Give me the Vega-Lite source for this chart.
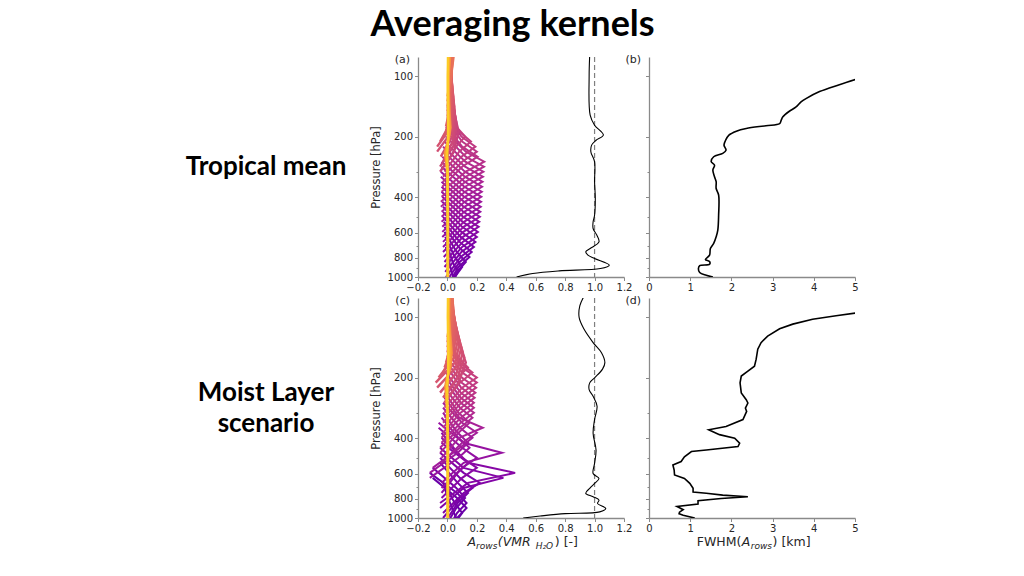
{
"$schema": "https://vega.github.io/schema/vega-lite/v6.json",
"padding": {"left": 139, "top": 7, "right": 5, "bottom": 5},
"title": {"text": "Averaging kernels", "font": "Lato", "fontSize": 36, "fontWeight": "bold", "color": "black", "anchor": "middle", "dx": 14, "offset": 10},
"config": {
  "view": {"stroke": null},
  "axis": {"domainColor": "#8a8a8a", "domainWidth": 1.3, "tickColor": "#8a8a8a", "tickWidth": 1, "tickSize": 3.5, "labelFont": "DejaVu Sans", "labelFontSize": 10, "labelColor": "#262626", "labelPadding": 2, "labelOverlap": false, "titleFont": "DejaVu Sans", "titleFontSize": 11.5, "titleFontWeight": "normal", "titleColor": "#262626", "grid": false}
},
"datasets": {
"ka": [
{"k":0,"p":1412.5,"x":0},{"k":0,"p":1122,"x":0.02},{"k":0,"p":1000,"x":0.04},{"k":0,"p":891.3,"x":0.02},{"k":0,"p":707.9,"x":-0.01},
{"k":1,"p":1333.5,"x":0},{"k":1,"p":1059.3,"x":0.035},{"k":1,"p":944.1,"x":0.07},{"k":1,"p":841.4,"x":0.035},{"k":1,"p":668.3,"x":-0.01},
{"k":2,"p":1258.9,"x":0},{"k":2,"p":1000,"x":0.05},{"k":2,"p":891.3,"x":0.1},{"k":2,"p":794.3,"x":0.05},{"k":2,"p":631,"x":-0.015},
{"k":3,"p":1188.5,"x":0},{"k":3,"p":944.1,"x":0.063},{"k":3,"p":841.4,"x":0.125},{"k":3,"p":749.9,"x":0.063},{"k":3,"p":595.7,"x":-0.02},
{"k":4,"p":1122,"x":-0.005},{"k":4,"p":891.3,"x":0.075},{"k":4,"p":794.3,"x":0.15},{"k":4,"p":707.9,"x":0.075},{"k":4,"p":562.3,"x":-0.02},
{"k":5,"p":1059.3,"x":-0.01},{"k":5,"p":841.4,"x":0.083},{"k":5,"p":749.9,"x":0.165},{"k":5,"p":668.3,"x":0.083},{"k":5,"p":530.9,"x":-0.025},
{"k":6,"p":1000,"x":-0.01},{"k":6,"p":794.3,"x":0.09},{"k":6,"p":707.9,"x":0.18},{"k":6,"p":631,"x":0.09},{"k":6,"p":501.2,"x":-0.03},
{"k":7,"p":944.1,"x":-0.015},{"k":7,"p":749.9,"x":0.095},{"k":7,"p":668.3,"x":0.19},{"k":7,"p":595.7,"x":0.095},{"k":7,"p":473.2,"x":-0.03},
{"k":8,"p":891.3,"x":-0.02},{"k":8,"p":707.9,"x":0.1},{"k":8,"p":631,"x":0.2},{"k":8,"p":562.3,"x":0.1},{"k":8,"p":446.7,"x":-0.03},
{"k":9,"p":841.4,"x":-0.02},{"k":9,"p":668.3,"x":0.104},{"k":9,"p":595.7,"x":0.207},{"k":9,"p":530.9,"x":0.104},{"k":9,"p":421.7,"x":-0.035},
{"k":10,"p":794.3,"x":-0.025},{"k":10,"p":631,"x":0.106},{"k":10,"p":562.3,"x":0.212},{"k":10,"p":501.2,"x":0.106},{"k":10,"p":398.1,"x":-0.035},
{"k":11,"p":749.9,"x":-0.03},{"k":11,"p":595.7,"x":0.108},{"k":11,"p":530.9,"x":0.216},{"k":11,"p":473.2,"x":0.108},{"k":11,"p":375.8,"x":-0.04},
{"k":12,"p":707.9,"x":-0.03},{"k":12,"p":562.3,"x":0.11},{"k":12,"p":501.2,"x":0.22},{"k":12,"p":446.7,"x":0.11},{"k":12,"p":354.8,"x":-0.04},
{"k":13,"p":668.3,"x":-0.03},{"k":13,"p":530.9,"x":0.112},{"k":13,"p":473.2,"x":0.223},{"k":13,"p":421.7,"x":0.112},{"k":13,"p":335,"x":-0.04},
{"k":14,"p":631,"x":-0.035},{"k":14,"p":501.2,"x":0.113},{"k":14,"p":446.7,"x":0.226},{"k":14,"p":398.1,"x":0.113},{"k":14,"p":316.2,"x":-0.045},
{"k":15,"p":595.7,"x":-0.035},{"k":15,"p":473.2,"x":0.114},{"k":15,"p":421.7,"x":0.228},{"k":15,"p":375.8,"x":0.114},{"k":15,"p":298.5,"x":-0.045},
{"k":16,"p":562.3,"x":-0.035},{"k":16,"p":446.7,"x":0.115},{"k":16,"p":398.1,"x":0.23},{"k":16,"p":354.8,"x":0.115},{"k":16,"p":281.8,"x":-0.04},
{"k":17,"p":530.9,"x":-0.04},{"k":17,"p":421.7,"x":0.117},{"k":17,"p":375.8,"x":0.233},{"k":17,"p":335,"x":0.117},{"k":17,"p":266.1,"x":-0.04},
{"k":18,"p":501.2,"x":-0.04},{"k":18,"p":398.1,"x":0.118},{"k":18,"p":354.8,"x":0.235},{"k":18,"p":316.2,"x":0.118},{"k":18,"p":251.2,"x":-0.035},
{"k":19,"p":473.2,"x":-0.04},{"k":19,"p":375.8,"x":0.119},{"k":19,"p":335,"x":0.238},{"k":19,"p":298.5,"x":0.119},{"k":19,"p":237.1,"x":-0.03},
{"k":20,"p":446.7,"x":-0.045},{"k":20,"p":354.8,"x":0.12},{"k":20,"p":316.2,"x":0.241},{"k":20,"p":281.8,"x":0.12},{"k":20,"p":223.9,"x":-0.03},
{"k":21,"p":421.7,"x":-0.045},{"k":21,"p":335,"x":0.122},{"k":21,"p":298.5,"x":0.244},{"k":21,"p":266.1,"x":0.122},{"k":21,"p":211.3,"x":-0.02},
{"k":22,"p":398.1,"x":-0.04},{"k":22,"p":316.2,"x":0.124},{"k":22,"p":281.8,"x":0.248},{"k":22,"p":251.2,"x":0.124},{"k":22,"p":199.5,"x":-0.01},
{"k":23,"p":375.8,"x":-0.04},{"k":23,"p":298.5,"x":0.125},{"k":23,"p":266.1,"x":0.25},{"k":23,"p":237.1,"x":0.125},{"k":23,"p":188.4,"x":-0.01},
{"k":24,"p":354.8,"x":-0.035},{"k":24,"p":281.8,"x":0.1},{"k":24,"p":251.2,"x":0.205},{"k":24,"p":223.9,"x":0.1},{"k":24,"p":177.8,"x":-0.01},
{"k":25,"p":335,"x":-0.03},{"k":25,"p":266.1,"x":0.1},{"k":25,"p":237.1,"x":0.2},{"k":25,"p":211.3,"x":0.1},{"k":25,"p":167.9,"x":0},
{"k":26,"p":316.2,"x":-0.03},{"k":26,"p":251.2,"x":0.095},{"k":26,"p":223.9,"x":0.19},{"k":26,"p":199.5,"x":0.095},{"k":26,"p":158.5,"x":0},
{"k":27,"p":298.5,"x":-0.02},{"k":27,"p":237.1,"x":0.08},{"k":27,"p":211.3,"x":0.16},{"k":27,"p":188.4,"x":0.08},{"k":27,"p":149.6,"x":0},
{"k":28,"p":281.8,"x":-0.02},{"k":28,"p":223.9,"x":0.06},{"k":28,"p":199.5,"x":0.12},{"k":28,"p":177.8,"x":0.06},{"k":28,"p":141.3,"x":0}
],
"ua": [
{"k":29,"p":298.5,"x":-0.05},{"k":29,"p":237.1,"x":0.045},{"k":29,"p":188.4,"x":0.075},{"k":29,"p":149.6,"x":0.045},{"k":29,"p":118.9,"x":0.01},
{"k":30,"p":281.8,"x":-0.05},{"k":30,"p":223.9,"x":0.039},{"k":30,"p":177.8,"x":0.065},{"k":30,"p":141.3,"x":0.039},{"k":30,"p":112.2,"x":0.01},
{"k":31,"p":266.1,"x":-0.03},{"k":31,"p":211.3,"x":0.035},{"k":31,"p":167.9,"x":0.058},{"k":31,"p":133.4,"x":0.035},{"k":31,"p":105.9,"x":0.01},
{"k":32,"p":251.2,"x":-0.045},{"k":32,"p":199.5,"x":0.032},{"k":32,"p":158.5,"x":0.053},{"k":32,"p":125.9,"x":0.032},{"k":32,"p":100,"x":0.01},
{"k":33,"p":237.1,"x":-0.07},{"k":33,"p":188.4,"x":0.03},{"k":33,"p":149.6,"x":0.05},{"k":33,"p":118.9,"x":0.03},{"k":33,"p":94.4,"x":0.01},
{"k":34,"p":223.9,"x":-0.07},{"k":34,"p":177.8,"x":0.028},{"k":34,"p":141.3,"x":0.047},{"k":34,"p":112.2,"x":0.028},{"k":34,"p":89.1,"x":0.01},
{"k":35,"p":211.3,"x":-0.05},{"k":35,"p":167.9,"x":0.026},{"k":35,"p":133.4,"x":0.043},{"k":35,"p":105.9,"x":0.026},{"k":35,"p":84.1,"x":0.01},
{"k":36,"p":199.5,"x":-0.02},{"k":36,"p":158.5,"x":0.024},{"k":36,"p":125.9,"x":0.04},{"k":36,"p":100,"x":0.024},{"k":36,"p":79.4,"x":0.01},
{"k":37,"p":188.4,"x":-0.01},{"k":37,"p":149.6,"x":0.022},{"k":37,"p":118.9,"x":0.036},{"k":37,"p":94.4,"x":0.022},{"k":37,"p":75,"x":0.01},
{"k":38,"p":177.8,"x":-0.01},{"k":38,"p":141.3,"x":0.02},{"k":38,"p":112.2,"x":0.033},{"k":38,"p":89.1,"x":0.02},{"k":38,"p":70.8,"x":0.01},
{"k":39,"p":167.9,"x":0},{"k":39,"p":133.4,"x":0.018},{"k":39,"p":105.9,"x":0.03},{"k":39,"p":84.1,"x":0.018},{"k":39,"p":66.8,"x":0.01},
{"k":40,"p":158.5,"x":0},{"k":40,"p":125.9,"x":0.016},{"k":40,"p":100,"x":0.027},{"k":40,"p":79.4,"x":0.016},{"k":40,"p":63.1,"x":0.01},
{"k":41,"p":149.6,"x":0},{"k":41,"p":118.9,"x":0.017},{"k":41,"p":94.4,"x":0.028},{"k":41,"p":75,"x":0.017},{"k":41,"p":59.6,"x":0.01},
{"k":42,"p":141.3,"x":0},{"k":42,"p":112.2,"x":0.018},{"k":42,"p":89.1,"x":0.03},{"k":42,"p":70.8,"x":0.018},{"k":42,"p":56.2,"x":0.01},
{"k":43,"p":133.4,"x":0},{"k":43,"p":105.9,"x":0.021},{"k":43,"p":84.1,"x":0.035},{"k":43,"p":66.8,"x":0.021},{"k":43,"p":53.1,"x":0.01},
{"k":44,"p":125.9,"x":0},{"k":44,"p":100,"x":0.025},{"k":44,"p":79.4,"x":0.042},{"k":44,"p":63.1,"x":0.025},{"k":44,"p":50.1,"x":0.01}
],
"ba": [
{"k":52,"p":1000,"x":0.005},{"k":52,"p":800,"x":0.005},{"k":52,"p":600,"x":0.005},{"k":52,"p":400,"x":0.004},{"k":52,"p":300,"x":0},{"k":52,"p":260,"x":-0.012},{"k":52,"p":240,"x":-0.018},{"k":52,"p":220,"x":-0.005},{"k":52,"p":200,"x":0.012},{"k":52,"p":180,"x":0.022},{"k":52,"p":150,"x":0.015},{"k":52,"p":120,"x":0.01},{"k":52,"p":100,"x":0.01},{"k":52,"p":78,"x":0.02},
{"k":56,"p":1000,"x":0.004},{"k":56,"p":800,"x":0.004},{"k":56,"p":600,"x":0.004},{"k":56,"p":400,"x":0.003},{"k":56,"p":300,"x":0},{"k":56,"p":260,"x":-0.009},{"k":56,"p":240,"x":-0.013},{"k":56,"p":220,"x":0},{"k":56,"p":200,"x":0.012},{"k":56,"p":180,"x":0.018},{"k":56,"p":150,"x":0.012},{"k":56,"p":120,"x":0.008},{"k":56,"p":100,"x":0.008},{"k":56,"p":78,"x":0.015},
{"k":60,"p":1000,"x":0.003},{"k":60,"p":800,"x":0.003},{"k":60,"p":600,"x":0.003},{"k":60,"p":400,"x":0.002},{"k":60,"p":300,"x":0.001},{"k":60,"p":260,"x":-0.006},{"k":60,"p":240,"x":-0.008},{"k":60,"p":220,"x":0},{"k":60,"p":200,"x":0.009},{"k":60,"p":180,"x":0.013},{"k":60,"p":150,"x":0.008},{"k":60,"p":120,"x":0.005},{"k":60,"p":100,"x":0.005},{"k":60,"p":78,"x":0.01},
{"k":64,"p":1000,"x":0.002},{"k":64,"p":800,"x":0.002},{"k":64,"p":600,"x":0.002},{"k":64,"p":400,"x":0.001},{"k":64,"p":300,"x":0.001},{"k":64,"p":260,"x":-0.003},{"k":64,"p":240,"x":-0.004},{"k":64,"p":220,"x":0.002},{"k":64,"p":200,"x":0.006},{"k":64,"p":180,"x":0.008},{"k":64,"p":150,"x":0.005},{"k":64,"p":120,"x":0.003},{"k":64,"p":100,"x":0.003},{"k":64,"p":78,"x":0.006},
{"k":68,"p":1000,"x":0.001},{"k":68,"p":800,"x":0.001},{"k":68,"p":600,"x":0.001},{"k":68,"p":400,"x":0.001},{"k":68,"p":300,"x":0.001},{"k":68,"p":260,"x":0},{"k":68,"p":240,"x":0},{"k":68,"p":220,"x":0.002},{"k":68,"p":200,"x":0.003},{"k":68,"p":180,"x":0.004},{"k":68,"p":150,"x":0.003},{"k":68,"p":120,"x":0.002},{"k":68,"p":100,"x":0.002},{"k":68,"p":78,"x":0.003}
],
"sa": [
{"p":78,"x":0.967},{"p":100,"x":0.963},{"p":156,"x":0.97},{"p":175,"x":1.0},{"p":196,"x":1.06},{"p":208,"x":1.01},{"p":220,"x":0.98},{"p":238,"x":0.975},{"p":266,"x":1.0},{"p":335,"x":1.0},{"p":406,"x":1.005},{"p":492,"x":1.0},{"p":531,"x":0.99},{"p":573,"x":0.99},{"p":618,"x":1.015},{"p":668,"x":1.03},{"p":721,"x":0.97},{"p":749,"x":0.94},{"p":778,"x":0.955},{"p":809,"x":1.0},{"p":873,"x":1.1},{"p":907,"x":1.04},{"p":932,"x":0.76},{"p":961,"x":0.58},{"p":1000,"x":0.47}
],
"fb": [
{"p":103,"x":5.05},{"p":110,"x":4.62},{"p":119,"x":4.14},{"p":129,"x":3.81},{"p":134,"x":3.69},{"p":142,"x":3.57},{"p":150,"x":3.39},{"p":159,"x":3.25},{"p":165,"x":3.21},{"p":172,"x":3.17},{"p":176,"x":2.84},{"p":181.7,"x":2.36},{"p":187.4,"x":2.12},{"p":196,"x":1.94},{"p":208,"x":1.86},{"p":220,"x":1.82},{"p":233,"x":1.87},{"p":242,"x":1.79},{"p":251.5,"x":1.57},{"p":266,"x":1.51},{"p":277,"x":1.59},{"p":293,"x":1.55},{"p":316,"x":1.59},{"p":335,"x":1.63},{"p":362,"x":1.63},{"p":390,"x":1.69},{"p":492,"x":1.69},{"p":584,"x":1.67},{"p":630,"x":1.63},{"p":680,"x":1.57},{"p":721,"x":1.49},{"p":778,"x":1.47},{"p":818,"x":1.37},{"p":837,"x":1.47},{"p":864,"x":1.47},{"p":878,"x":1.23},{"p":907,"x":1.2},{"p":950,"x":1.23},{"p":980,"x":1.39},{"p":1000,"x":1.55}
],
"kc": [
{"k":0,"p":1412.5,"x":0},{"k":0,"p":1122,"x":0.03},{"k":0,"p":1000,"x":0.06},{"k":0,"p":891.3,"x":0.03},{"k":0,"p":707.9,"x":-0.02},
{"k":1,"p":1333.5,"x":0},{"k":1,"p":1059.3,"x":0.05},{"k":1,"p":944.1,"x":0.1},{"k":1,"p":841.4,"x":0.05},{"k":1,"p":668.3,"x":-0.03},
{"k":2,"p":1258.9,"x":-0.01},{"k":2,"p":1000,"x":0.065},{"k":2,"p":891.3,"x":0.13},{"k":2,"p":794.3,"x":0.065},{"k":2,"p":631,"x":-0.1},
{"k":3,"p":1188.5,"x":-0.01},{"k":3,"p":944.1,"x":0.065},{"k":3,"p":841.4,"x":0.13},{"k":3,"p":749.9,"x":0.065},{"k":3,"p":595.7,"x":-0.12},
{"k":4,"p":1122,"x":-0.02},{"k":4,"p":891.3,"x":0.06},{"k":4,"p":794.3,"x":0.12},{"k":4,"p":707.9,"x":0.06},{"k":4,"p":562.3,"x":-0.1},
{"k":5,"p":1059.3,"x":-0.02},{"k":5,"p":841.4,"x":0.07},{"k":5,"p":749.9,"x":0.14},{"k":5,"p":668.3,"x":0.07},{"k":5,"p":530.9,"x":-0.05},
{"k":6,"p":1000,"x":-0.03},{"k":6,"p":794.3,"x":0.085},{"k":6,"p":707.9,"x":0.17},{"k":6,"p":631,"x":0.085},{"k":6,"p":501.2,"x":-0.05},
{"k":7,"p":944.1,"x":-0.03},{"k":7,"p":749.9,"x":0.11},{"k":7,"p":668.3,"x":0.22},{"k":7,"p":595.7,"x":0.11},{"k":7,"p":473.2,"x":-0.05},
{"k":8,"p":891.3,"x":-0.05},{"k":8,"p":707.9,"x":0.11},{"k":8,"p":631,"x":0.38},{"k":8,"p":562.3,"x":0.11},{"k":8,"p":446.7,"x":-0.05},
{"k":9,"p":841.4,"x":-0.05},{"k":9,"p":668.3,"x":0.14},{"k":9,"p":595.7,"x":0.46},{"k":9,"p":530.9,"x":0.14},{"k":9,"p":421.7,"x":-0.04},
{"k":10,"p":794.3,"x":-0.04},{"k":10,"p":631,"x":0.1},{"k":10,"p":562.3,"x":0.2},{"k":10,"p":501.2,"x":0.1},{"k":10,"p":398.1,"x":-0.04},
{"k":11,"p":749.9,"x":-0.04},{"k":11,"p":595.7,"x":0.07},{"k":11,"p":530.9,"x":0.14},{"k":11,"p":473.2,"x":0.07},{"k":11,"p":375.8,"x":-0.04},
{"k":12,"p":707.9,"x":-0.04},{"k":12,"p":562.3,"x":0.1},{"k":12,"p":501.2,"x":0.2},{"k":12,"p":446.7,"x":0.1},{"k":12,"p":354.8,"x":-0.06},
{"k":13,"p":668.3,"x":-0.04},{"k":13,"p":530.9,"x":0.11},{"k":13,"p":473.2,"x":0.37},{"k":13,"p":421.7,"x":0.11},{"k":13,"p":335,"x":-0.06},
{"k":14,"p":631,"x":-0.12},{"k":14,"p":501.2,"x":0.075},{"k":14,"p":446.7,"x":0.15},{"k":14,"p":398.1,"x":0.075},{"k":14,"p":316.2,"x":-0.04},
{"k":15,"p":595.7,"x":-0.12},{"k":15,"p":473.2,"x":0.07},{"k":15,"p":421.7,"x":0.14},{"k":15,"p":375.8,"x":0.07},{"k":15,"p":298.5,"x":-0.03},
{"k":16,"p":562.3,"x":-0.1},{"k":16,"p":446.7,"x":0.085},{"k":16,"p":398.1,"x":0.17},{"k":16,"p":354.8,"x":0.085},{"k":16,"p":281.8,"x":-0.03},
{"k":17,"p":530.9,"x":-0.04},{"k":17,"p":421.7,"x":0.1},{"k":17,"p":375.8,"x":0.2},{"k":17,"p":335,"x":0.1},{"k":17,"p":266.1,"x":-0.03},
{"k":18,"p":501.2,"x":-0.04},{"k":18,"p":398.1,"x":0.08},{"k":18,"p":354.8,"x":0.24},{"k":18,"p":316.2,"x":0.08},{"k":18,"p":251.2,"x":-0.02},
{"k":19,"p":473.2,"x":-0.05},{"k":19,"p":375.8,"x":0.075},{"k":19,"p":335,"x":0.15},{"k":19,"p":298.5,"x":0.075},{"k":19,"p":237.1,"x":-0.02},
{"k":20,"p":446.7,"x":-0.05},{"k":20,"p":354.8,"x":0.085},{"k":20,"p":316.2,"x":0.17},{"k":20,"p":281.8,"x":0.085},{"k":20,"p":223.9,"x":-0.02},
{"k":21,"p":421.7,"x":-0.04},{"k":21,"p":335,"x":0.09},{"k":21,"p":298.5,"x":0.18},{"k":21,"p":266.1,"x":0.09},{"k":21,"p":211.3,"x":-0.01},
{"k":22,"p":398.1,"x":-0.04},{"k":22,"p":316.2,"x":0.09},{"k":22,"p":281.8,"x":0.18},{"k":22,"p":251.2,"x":0.09},{"k":22,"p":199.5,"x":-0.01},
{"k":23,"p":375.8,"x":-0.03},{"k":23,"p":298.5,"x":0.09},{"k":23,"p":266.1,"x":0.18},{"k":23,"p":237.1,"x":0.09},{"k":23,"p":188.4,"x":-0.01},
{"k":24,"p":354.8,"x":-0.03},{"k":24,"p":281.8,"x":0.093},{"k":24,"p":251.2,"x":0.185},{"k":24,"p":223.9,"x":0.093},{"k":24,"p":177.8,"x":0},
{"k":25,"p":335,"x":-0.03},{"k":25,"p":266.1,"x":0.095},{"k":25,"p":237.1,"x":0.19},{"k":25,"p":211.3,"x":0.095},{"k":25,"p":167.9,"x":0},
{"k":26,"p":316.2,"x":-0.02},{"k":26,"p":251.2,"x":0.098},{"k":26,"p":223.9,"x":0.195},{"k":26,"p":199.5,"x":0.098},{"k":26,"p":158.5,"x":0},
{"k":27,"p":298.5,"x":-0.02},{"k":27,"p":237.1,"x":0.1},{"k":27,"p":211.3,"x":0.2},{"k":27,"p":188.4,"x":0.1},{"k":27,"p":149.6,"x":0},
{"k":28,"p":281.8,"x":-0.02},{"k":28,"p":223.9,"x":0.1},{"k":28,"p":199.5,"x":0.2},{"k":28,"p":177.8,"x":0.1},{"k":28,"p":141.3,"x":0},
{"k":29,"p":266.1,"x":-0.02},{"k":29,"p":211.3,"x":0.085},{"k":29,"p":188.4,"x":0.17},{"k":29,"p":167.9,"x":0.085},{"k":29,"p":133.4,"x":0},
{"k":30,"p":251.2,"x":-0.02},{"k":30,"p":199.5,"x":0.07},{"k":30,"p":177.8,"x":0.14},{"k":30,"p":158.5,"x":0.07},{"k":30,"p":125.9,"x":0}
],
"uc": [
{"k":31,"p":266.1,"x":-0.02},{"k":31,"p":211.3,"x":0.075},{"k":31,"p":167.9,"x":0.125},{"k":31,"p":133.4,"x":0.075},{"k":31,"p":105.9,"x":0.01},
{"k":32,"p":251.2,"x":-0.03},{"k":32,"p":199.5,"x":0.069},{"k":32,"p":158.5,"x":0.115},{"k":32,"p":125.9,"x":0.069},{"k":32,"p":100,"x":0.01},
{"k":33,"p":237.1,"x":-0.05},{"k":33,"p":188.4,"x":0.063},{"k":33,"p":149.6,"x":0.105},{"k":33,"p":118.9,"x":0.063},{"k":33,"p":94.4,"x":0.01},
{"k":34,"p":223.9,"x":-0.07},{"k":34,"p":177.8,"x":0.057},{"k":34,"p":141.3,"x":0.095},{"k":34,"p":112.2,"x":0.057},{"k":34,"p":89.1,"x":0.01},
{"k":35,"p":211.3,"x":-0.08},{"k":35,"p":167.9,"x":0.051},{"k":35,"p":133.4,"x":0.085},{"k":35,"p":105.9,"x":0.051},{"k":35,"p":84.1,"x":0.01},
{"k":36,"p":199.5,"x":-0.06},{"k":36,"p":158.5,"x":0.045},{"k":36,"p":125.9,"x":0.075},{"k":36,"p":100,"x":0.045},{"k":36,"p":79.4,"x":0.01},
{"k":37,"p":188.4,"x":-0.03},{"k":37,"p":149.6,"x":0.039},{"k":37,"p":118.9,"x":0.065},{"k":37,"p":94.4,"x":0.039},{"k":37,"p":75,"x":0.01},
{"k":38,"p":177.8,"x":-0.02},{"k":38,"p":141.3,"x":0.035},{"k":38,"p":112.2,"x":0.058},{"k":38,"p":89.1,"x":0.035},{"k":38,"p":70.8,"x":0.01},
{"k":39,"p":167.9,"x":-0.01},{"k":39,"p":133.4,"x":0.031},{"k":39,"p":105.9,"x":0.052},{"k":39,"p":84.1,"x":0.031},{"k":39,"p":66.8,"x":0.01},
{"k":40,"p":158.5,"x":0},{"k":40,"p":125.9,"x":0.027},{"k":40,"p":100,"x":0.045},{"k":40,"p":79.4,"x":0.027},{"k":40,"p":63.1,"x":0.01},
{"k":41,"p":149.6,"x":0},{"k":41,"p":118.9,"x":0.025},{"k":41,"p":94.4,"x":0.042},{"k":41,"p":75,"x":0.025},{"k":41,"p":59.6,"x":0.01},
{"k":42,"p":141.3,"x":0},{"k":42,"p":112.2,"x":0.024},{"k":42,"p":89.1,"x":0.04},{"k":42,"p":70.8,"x":0.024},{"k":42,"p":56.2,"x":0.01},
{"k":43,"p":133.4,"x":0},{"k":43,"p":105.9,"x":0.022},{"k":43,"p":84.1,"x":0.037},{"k":43,"p":66.8,"x":0.022},{"k":43,"p":53.1,"x":0.01},
{"k":44,"p":125.9,"x":0},{"k":44,"p":100,"x":0.021},{"k":44,"p":79.4,"x":0.035},{"k":44,"p":63.1,"x":0.021},{"k":44,"p":50.1,"x":0.01}
],
"bc": [
{"k":52,"p":1000,"x":0.005},{"k":52,"p":800,"x":0.005},{"k":52,"p":600,"x":0.005},{"k":52,"p":400,"x":0.005},{"k":52,"p":300,"x":0},{"k":52,"p":250,"x":-0.01},{"k":52,"p":220,"x":-0.015},{"k":52,"p":200,"x":-0.005},{"k":52,"p":180,"x":0.02},{"k":52,"p":150,"x":0.03},{"k":52,"p":120,"x":0.02},{"k":52,"p":100,"x":0.012},{"k":52,"p":78,"x":0.015},
{"k":56,"p":1000,"x":0.004},{"k":56,"p":800,"x":0.004},{"k":56,"p":600,"x":0.004},{"k":56,"p":400,"x":0.004},{"k":56,"p":300,"x":0},{"k":56,"p":250,"x":-0.008},{"k":56,"p":220,"x":-0.01},{"k":56,"p":200,"x":0},{"k":56,"p":180,"x":0.018},{"k":56,"p":150,"x":0.025},{"k":56,"p":120,"x":0.016},{"k":56,"p":100,"x":0.01},{"k":56,"p":78,"x":0.012},
{"k":60,"p":1000,"x":0.003},{"k":60,"p":800,"x":0.003},{"k":60,"p":600,"x":0.003},{"k":60,"p":400,"x":0.003},{"k":60,"p":300,"x":0},{"k":60,"p":250,"x":-0.005},{"k":60,"p":220,"x":-0.006},{"k":60,"p":200,"x":0},{"k":60,"p":180,"x":0.012},{"k":60,"p":150,"x":0.018},{"k":60,"p":120,"x":0.012},{"k":60,"p":100,"x":0.007},{"k":60,"p":78,"x":0.008},
{"k":64,"p":1000,"x":0.002},{"k":64,"p":800,"x":0.002},{"k":64,"p":600,"x":0.002},{"k":64,"p":400,"x":0.002},{"k":64,"p":300,"x":0},{"k":64,"p":250,"x":-0.003},{"k":64,"p":220,"x":-0.003},{"k":64,"p":200,"x":0.002},{"k":64,"p":180,"x":0.008},{"k":64,"p":150,"x":0.01},{"k":64,"p":120,"x":0.006},{"k":64,"p":100,"x":0.004},{"k":64,"p":78,"x":0.005},
{"k":68,"p":1000,"x":0.001},{"k":68,"p":800,"x":0.001},{"k":68,"p":600,"x":0.001},{"k":68,"p":400,"x":0.001},{"k":68,"p":300,"x":0.001},{"k":68,"p":250,"x":0},{"k":68,"p":220,"x":0},{"k":68,"p":200,"x":0.002},{"k":68,"p":180,"x":0.004},{"k":68,"p":150,"x":0.005},{"k":68,"p":120,"x":0.003},{"k":68,"p":100,"x":0.002},{"k":68,"p":78,"x":0.003}
],
"sc": [
{"p":78,"x":0.93},{"p":87.4,"x":0.9},{"p":100,"x":0.895},{"p":114,"x":0.927},{"p":133.5,"x":0.99},{"p":150,"x":1.047},{"p":168,"x":1.07},{"p":181,"x":1.054},{"p":200,"x":1.0},{"p":212,"x":0.967},{"p":229,"x":0.963},{"p":247,"x":0.99},{"p":277,"x":1.017},{"p":323,"x":1.0},{"p":378,"x":0.99},{"p":458,"x":1.01},{"p":534,"x":1.0},{"p":600,"x":0.99},{"p":635,"x":1.03},{"p":672,"x":1.0},{"p":711,"x":0.967},{"p":753,"x":0.94},{"p":783,"x":0.99},{"p":815,"x":1.03},{"p":846,"x":1.02},{"p":897,"x":1.076},{"p":932,"x":1.035},{"p":951,"x":0.8},{"p":978,"x":0.63},{"p":1000,"x":0.515}
],
"fd": [
{"p":95.1,"x":5.02},{"p":98,"x":4.54},{"p":102,"x":3.97},{"p":108,"x":3.49},{"p":114,"x":3.17},{"p":124,"x":2.88},{"p":133.5,"x":2.72},{"p":144,"x":2.64},{"p":162,"x":2.6},{"p":175,"x":2.56},{"p":185,"x":2.4},{"p":196,"x":2.24},{"p":212,"x":2.21},{"p":238,"x":2.24},{"p":257,"x":2.36},{"p":267,"x":2.4},{"p":283,"x":2.34},{"p":294,"x":2.37},{"p":323,"x":2.28},{"p":350,"x":1.87},{"p":363,"x":1.45},{"p":384,"x":1.71},{"p":400,"x":2.08},{"p":424,"x":2.2},{"p":440,"x":2.16},{"p":458,"x":1.39},{"p":466,"x":1.03},{"p":495,"x":0.86},{"p":523,"x":0.78},{"p":544,"x":0.58},{"p":576,"x":0.61},{"p":610,"x":0.62},{"p":635,"x":0.86},{"p":672,"x":0.99},{"p":711,"x":1.07},{"p":742,"x":1.07},{"p":753,"x":1.39},{"p":769,"x":1.79},{"p":784,"x":2.4},{"p":800,"x":1.75},{"p":821,"x":1.19},{"p":853,"x":1.19},{"p":877,"x":0.68},{"p":909,"x":0.83},{"p":935,"x":0.74},{"p":952,"x":0.73},{"p":970,"x":0.83},{"p":1000,"x":1.11}
]
},
"vconcat": [
{
"hconcat": [
{"width": 254, "height": 220, "data": {"values": [{"t": "Tropical mean"}]},
 "mark": {"type": "text", "font": "Lato", "fontWeight": "bold", "fontSize": 26, "align": "center", "baseline": "middle", "color": "black"},
 "encoding": {"text": {"field": "t"}, "x": {"datum": 0.5, "scale": {"domain": [0, 1]}, "axis": null}, "y": {"datum": 0.5, "scale": {"domain": [0, 1]}, "axis": null}}},
{"width": 206, "height": 220, "layer": [
 {"data": {"name": "ka"}, "mark": {"type": "line", "strokeWidth": 2, "clip": true},
  "encoding": {
   "x": {"field": "x", "type": "quantitative", "scale": {"domain": [-0.2, 1.2], "nice": false, "zero": false}, "axis": {"title": null, "values": [-0.2, 0, 0.2, 0.4, 0.6, 0.8, 1, 1.2], "tickCount": 20, "format": ".1f", "labelOverlap": false, "labelBound": false, "labelFlush": false}},
   "y": {"field": "p", "type": "quantitative", "scale": {"type": "log", "domain": [80, 1000], "reverse": true, "nice": false}, "axis": {"title": "Pressure [hPa]", "values": [100, 200, 300, 400, 500, 600, 700, 800, 900, 1000], "tickCount": 20, "format": "d", "labelOverlap": false, "labelExpr": "indexof([100,200,400,600,800,1000], datum.value) >= 0 ? datum.label : ''", "tickSize": {"condition": {"test": "indexof([100,200,400,600,800,1000], datum.value) < 0", "value": 2}, "value": 3.5}, "titlePadding": 6}},
   "color": {"field": "k", "type": "quantitative", "scale": {"scheme": "plasma", "domain": [-17, 78]}, "legend": null},
   "detail": {"field": "k", "type": "nominal"},
   "order": {"field": "p", "type": "quantitative"}}},
 {"data": {"name": "ua"}, "mark": {"type": "line", "strokeWidth": 2.4, "clip": true},
  "encoding": {"x": {"field": "x", "type": "quantitative"}, "y": {"field": "p", "type": "quantitative"},
   "color": {"field": "k", "type": "quantitative", "scale": {"scheme": "plasma", "domain": [-17, 78]}, "legend": null},
   "detail": {"field": "k", "type": "nominal"}, "order": {"field": "p", "type": "quantitative"}}},
 {"data": {"name": "ba"}, "mark": {"type": "line", "strokeWidth": 2.2, "clip": true},
  "encoding": {"x": {"field": "x", "type": "quantitative"}, "y": {"field": "p", "type": "quantitative"},
   "color": {"field": "k", "type": "quantitative", "scale": {"scheme": "plasma", "domain": [-17, 78]}, "legend": null},
   "detail": {"field": "k", "type": "nominal"}, "order": {"field": "p", "type": "quantitative"}}},
 {"data": {"values": [{"x": 1}]}, "mark": {"type": "rule", "color": "#7f7f7f", "strokeDash": [5, 3], "strokeWidth": 1.2},
  "encoding": {"x": {"field": "x", "type": "quantitative"}}},
 {"data": {"name": "sa"}, "mark": {"type": "line", "color": "black", "strokeWidth": 1.1, "clip": true, "interpolate": "catmull-rom"},
  "encoding": {"x": {"field": "x", "type": "quantitative"}, "y": {"field": "p", "type": "quantitative"}, "order": {"field": "p", "type": "quantitative"}}},
 {"data": {"values": [{"t": "(a)"}]}, "mark": {"type": "text", "font": "DejaVu Sans", "fontSize": 11, "align": "right", "baseline": "middle", "dx": -8, "dy": 3, "color": "#262626"},
  "encoding": {"text": {"field": "t"}, "x": {"datum": -0.2}, "y": {"datum": 80}}}
]},
{"width": 206, "height": 220, "layer": [
 {"data": {"name": "fb"}, "mark": {"type": "line", "color": "black", "strokeWidth": 1.6, "clip": true, "interpolate": "catmull-rom"},
  "encoding": {
   "x": {"field": "x", "type": "quantitative", "scale": {"domain": [0, 5], "nice": false}, "axis": {"title": null, "values": [0, 1, 2, 3, 4, 5], "tickCount": 20, "format": "d", "labelOverlap": false, "labelBound": false, "labelFlush": false}},
   "y": {"field": "p", "type": "quantitative", "scale": {"type": "log", "domain": [80, 1000], "reverse": true, "nice": false}, "axis": {"title": null, "labels": false, "values": [100, 200, 300, 400, 500, 600, 700, 800, 900, 1000], "tickCount": 20, "tickSize": {"condition": {"test": "indexof([100,200,400,600,800,1000], datum.value) < 0", "value": 2}, "value": 3.5}}},
   "order": {"field": "p", "type": "quantitative"}}},
 {"data": {"values": [{"t": "(b)"}]}, "mark": {"type": "text", "font": "DejaVu Sans", "fontSize": 11, "align": "right", "baseline": "middle", "dx": -8, "dy": 3, "color": "#262626"},
  "encoding": {"text": {"field": "t"}, "x": {"datum": 0}, "y": {"datum": 80}}}
]}
],
"spacing": 25, "bounds": "flush"
},
{
"hconcat": [
{"width": 254, "height": 220, "data": {"values": [{"t": "Moist Layer\nscenario"}]},
 "mark": {"type": "text", "font": "Lato", "fontWeight": "bold", "fontSize": 26, "align": "center", "baseline": "middle", "color": "black", "lineBreak": "\n", "lineHeight": 31.5},
 "encoding": {"text": {"field": "t"}, "x": {"datum": 0.5, "scale": {"domain": [0, 1]}, "axis": null}, "y": {"datum": 0.57, "scale": {"domain": [0, 1]}, "axis": null}}},
{"width": 206, "height": 220, "layer": [
 {"data": {"name": "kc"}, "mark": {"type": "line", "strokeWidth": 2, "clip": true},
  "encoding": {
   "x": {"field": "x", "type": "quantitative", "scale": {"domain": [-0.2, 1.2], "nice": false, "zero": false}, "axis": {"title": null, "values": [-0.2, 0, 0.2, 0.4, 0.6, 0.8, 1, 1.2], "tickCount": 20, "format": ".1f", "labelOverlap": false, "labelBound": false, "labelFlush": false}},
   "y": {"field": "p", "type": "quantitative", "scale": {"type": "log", "domain": [80, 1000], "reverse": true, "nice": false}, "axis": {"title": "Pressure [hPa]", "values": [100, 200, 300, 400, 500, 600, 700, 800, 900, 1000], "tickCount": 20, "format": "d", "labelOverlap": false, "labelExpr": "indexof([100,200,400,600,800,1000], datum.value) >= 0 ? datum.label : ''", "tickSize": {"condition": {"test": "indexof([100,200,400,600,800,1000], datum.value) < 0", "value": 2}, "value": 3.5}, "titlePadding": 6}},
   "color": {"field": "k", "type": "quantitative", "scale": {"scheme": "plasma", "domain": [-17, 78]}, "legend": null},
   "detail": {"field": "k", "type": "nominal"},
   "order": {"field": "p", "type": "quantitative"}}},
 {"data": {"name": "uc"}, "mark": {"type": "line", "strokeWidth": 2.4, "clip": true},
  "encoding": {"x": {"field": "x", "type": "quantitative"}, "y": {"field": "p", "type": "quantitative"},
   "color": {"field": "k", "type": "quantitative", "scale": {"scheme": "plasma", "domain": [-17, 78]}, "legend": null},
   "detail": {"field": "k", "type": "nominal"}, "order": {"field": "p", "type": "quantitative"}}},
 {"data": {"name": "bc"}, "mark": {"type": "line", "strokeWidth": 2.2, "clip": true},
  "encoding": {"x": {"field": "x", "type": "quantitative"}, "y": {"field": "p", "type": "quantitative"},
   "color": {"field": "k", "type": "quantitative", "scale": {"scheme": "plasma", "domain": [-17, 78]}, "legend": null},
   "detail": {"field": "k", "type": "nominal"}, "order": {"field": "p", "type": "quantitative"}}},
 {"data": {"values": [{"x": 1}]}, "mark": {"type": "rule", "color": "#7f7f7f", "strokeDash": [5, 3], "strokeWidth": 1.2},
  "encoding": {"x": {"field": "x", "type": "quantitative"}}},
 {"data": {"name": "sc"}, "mark": {"type": "line", "color": "black", "strokeWidth": 1.1, "clip": true, "interpolate": "catmull-rom"},
  "encoding": {"x": {"field": "x", "type": "quantitative"}, "y": {"field": "p", "type": "quantitative"}, "order": {"field": "p", "type": "quantitative"}}},
 {"data": {"values": [{"t": "(c)"}]}, "mark": {"type": "text", "font": "DejaVu Sans", "fontSize": 11, "align": "right", "baseline": "middle", "dx": -8, "dy": 3, "color": "#262626"},
  "encoding": {"text": {"field": "t"}, "x": {"datum": -0.2}, "y": {"datum": 80}}},
 {"data": {"values": [{"t": "A"}]}, "mark": {"type": "text", "font": "DejaVu Sans", "fontSize": 12.5, "fontStyle": "italic", "align": "left", "baseline": "alphabetic", "color": "#262626"},
  "encoding": {"text": {"field": "t"}, "x": {"datum": 0.136}, "y": {"datum": 1379}}},
 {"data": {"values": [{"t": "rows"}]}, "mark": {"type": "text", "font": "DejaVu Sans", "fontSize": 9, "fontStyle": "italic", "align": "left", "baseline": "alphabetic", "color": "#262626"},
  "encoding": {"text": {"field": "t"}, "x": {"datum": 0.195}, "y": {"datum": 1431}}},
 {"data": {"values": [{"t": "(VMR"}]}, "mark": {"type": "text", "font": "DejaVu Sans", "fontSize": 12.5, "fontStyle": "italic", "align": "left", "baseline": "alphabetic", "color": "#262626"},
  "encoding": {"text": {"field": "t"}, "x": {"datum": 0.342}, "y": {"datum": 1379}}},
 {"data": {"values": [{"t": "H₂O"}]}, "mark": {"type": "text", "font": "DejaVu Sans", "fontSize": 9, "fontStyle": "italic", "align": "left", "baseline": "alphabetic", "color": "#262626"},
  "encoding": {"text": {"field": "t"}, "x": {"datum": 0.6}, "y": {"datum": 1431}}},
 {"data": {"values": [{"t": ") [-]"}]}, "mark": {"type": "text", "font": "DejaVu Sans", "fontSize": 12.5, "align": "left", "baseline": "alphabetic", "color": "#262626"},
  "encoding": {"text": {"field": "t"}, "x": {"datum": 0.73}, "y": {"datum": 1379}}}
]},
{"width": 206, "height": 220, "layer": [
 {"data": {"name": "fd"}, "mark": {"type": "line", "color": "black", "strokeWidth": 1.6, "clip": true},
  "encoding": {
   "x": {"field": "x", "type": "quantitative", "scale": {"domain": [0, 5], "nice": false}, "axis": {"title": null, "values": [0, 1, 2, 3, 4, 5], "tickCount": 20, "format": "d", "labelOverlap": false, "labelBound": false, "labelFlush": false}},
   "y": {"field": "p", "type": "quantitative", "scale": {"type": "log", "domain": [80, 1000], "reverse": true, "nice": false}, "axis": {"title": null, "labels": false, "values": [100, 200, 300, 400, 500, 600, 700, 800, 900, 1000], "tickCount": 20, "tickSize": {"condition": {"test": "indexof([100,200,400,600,800,1000], datum.value) < 0", "value": 2}, "value": 3.5}}},
   "order": {"field": "p", "type": "quantitative"}}},
 {"data": {"values": [{"t": "(d)"}]}, "mark": {"type": "text", "font": "DejaVu Sans", "fontSize": 11, "align": "right", "baseline": "middle", "dx": -8, "dy": 3, "color": "#262626"},
  "encoding": {"text": {"field": "t"}, "x": {"datum": 0}, "y": {"datum": 80}}},
 {"data": {"values": [{"t": "FWHM("}]}, "mark": {"type": "text", "font": "DejaVu Sans", "fontSize": 12.5, "align": "left", "baseline": "alphabetic", "color": "#262626"},
  "encoding": {"text": {"field": "t"}, "x": {"datum": 1.16}, "y": {"datum": 1379}}},
 {"data": {"values": [{"t": "A"}]}, "mark": {"type": "text", "font": "DejaVu Sans", "fontSize": 12.5, "fontStyle": "italic", "align": "left", "baseline": "alphabetic", "color": "#262626"},
  "encoding": {"text": {"field": "t"}, "x": {"datum": 2.25}, "y": {"datum": 1379}}},
 {"data": {"values": [{"t": "rows"}]}, "mark": {"type": "text", "font": "DejaVu Sans", "fontSize": 9, "fontStyle": "italic", "align": "left", "baseline": "alphabetic", "color": "#262626"},
  "encoding": {"text": {"field": "t"}, "x": {"datum": 2.47}, "y": {"datum": 1431}}},
 {"data": {"values": [{"t": ") [km]"}]}, "mark": {"type": "text", "font": "DejaVu Sans", "fontSize": 12.5, "align": "left", "baseline": "alphabetic", "color": "#262626"},
  "encoding": {"text": {"field": "t"}, "x": {"datum": 3.0}, "y": {"datum": 1379}}}
]}
],
"spacing": 25, "bounds": "flush"
}
],
"spacing": 2
}
